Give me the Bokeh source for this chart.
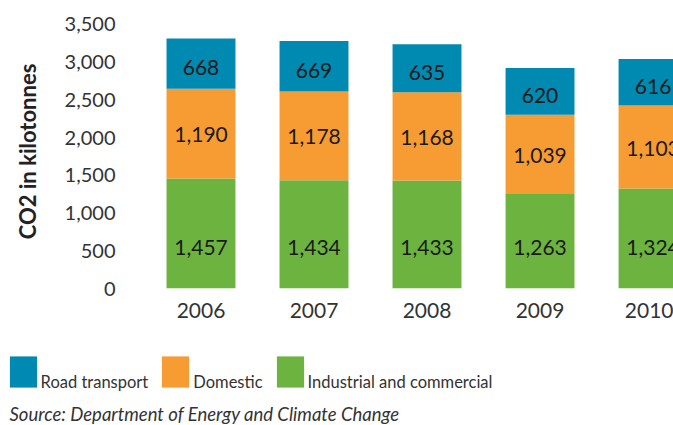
from bokeh.plotting import figure
from bokeh.models import (Range1d, FixedTicker, NumeralTickFormatter, Legend,
                          LegendItem, Label, ColumnDataSource)
from bokeh.core.properties import value
from bokeh.embed import file_html
from bokeh.resources import INLINE

years = [2006, 2007, 2008, 2009, 2010]
year_labels = ["2006", "2007", "2008", "2009", "2010"]
industrial = [1457, 1434, 1433, 1263, 1324]
domestic = [1190, 1178, 1168, 1039, 1103]
road = [668, 669, 635, 620, 616]
series_names = ["Road transport", "Domestic", "Industrial and commercial"]
y_ticks = [0, 500, 1000, 1500, 2000, 2500, 3000, 3500]
source_text = "Source: Department of Energy and Climate Change"

C_ROAD = "#0089B1"
C_DOM = "#F79C33"
C_IND = "#6DB33F"
FONT = "Lato"
W = 673
H_TOP = 335
H_BOT = 90

def fmt(v):
    return f"{v:,}"

src = ColumnDataSource(dict(
    x=years,
    industrial=industrial,
    domestic=domestic,
    road=road,
    zero=[0 for _ in years],
    ind_lab=[fmt(v) for v in industrial],
    dom_lab=[fmt(v) for v in domestic],
    road_lab=[fmt(v) for v in road],
    ind_y=[540 for _ in industrial],
    dom_y=[i + d / 2 for i, d in zip(industrial, domestic)],
    road_y=[i + d + r / 2 for i, d, r in zip(industrial, domestic, road)],
))

p = figure(width=W, height=H_TOP, output_backend="svg", toolbar_location=None,
           x_range=Range1d(2005.332, 2010.181), y_range=Range1d(0, 3632),
           min_border_left=125, min_border_right=0, min_border_top=14,
           min_border_bottom=47)
p.outline_line_color = None
p.grid.visible = False

p.vbar_stack(["industrial", "domestic", "road"], x="x", width=0.61,
             source=src, color=[C_IND, C_DOM, C_ROAD], line_color=None)

for col, ycol, off in [("ind_lab", "ind_y", 0), ("dom_lab", "dom_y", 1), ("road_lab", "road_y", 4)]:
    p.text(x="x", y=ycol, text=col, source=src, text_align="center",
           text_baseline="middle", text_font=value(FONT), text_font_size="21px",
           text_color="#1a1a1a", y_offset=off)

p.xaxis.ticker = FixedTicker(ticks=years)
p.xaxis.major_label_overrides = {y: s for y, s in zip(years, year_labels)}
p.xaxis.axis_line_color = None
p.xaxis.major_tick_line_color = None
p.xaxis.minor_tick_line_color = None
p.xaxis.major_tick_out = 0
p.xaxis.major_label_standoff = 14
p.xaxis.major_label_text_font = FONT
p.xaxis.major_label_text_font_size = "21px"
p.xaxis.major_label_text_color = "#333333"

p.yaxis.ticker = FixedTicker(ticks=y_ticks)
p.yaxis.formatter = NumeralTickFormatter(format="0,0")
p.yaxis.axis_line_color = None
p.yaxis.major_tick_line_color = None
p.yaxis.minor_tick_line_color = None
p.yaxis.major_tick_out = 0
p.yaxis.major_label_standoff = 10
p.yaxis.major_label_text_font = FONT
p.yaxis.major_label_text_font_size = "20px"
p.yaxis.major_label_text_color = "#333333"
p.yaxis.axis_label = "CO2 in kilotonnes"
p.yaxis.axis_label_text_font = FONT
p.yaxis.axis_label_text_font_style = "bold"
p.yaxis.axis_label_text_font_size = "22px"
p.yaxis.axis_label_text_color = "#222222"
p.yaxis.axis_label_standoff = 21

# legend and source strip (separate root so its frame starts at the left edge)
q = figure(width=W, height=H_BOT, output_backend="svg", toolbar_location=None,
           x_range=Range1d(2005.332, 2010.181), y_range=Range1d(0, 1),
           x_axis_location=None, y_axis_location=None, min_border=0)
q.grid.visible = False
q.outline_line_color = None
leg_r = [q.vbar(x="x", top="zero", bottom="zero", width=0.61, source=src,
                color=c, line_color=None) for c in (C_ROAD, C_DOM, C_IND)]
# leading empty line drops the label text to the bottom of the swatch
legend = Legend(items=[LegendItem(label="\n" + n, renderers=[r])
                       for n, r in zip(series_names, leg_r)],
                orientation="horizontal", location=(5.6, 33.4),
                glyph_width=34, glyph_height=39,
                label_standoff=1, spacing=10,
                padding=0, margin=0, border_line_color=None,
                background_fill_alpha=0, label_text_font=FONT,
                label_text_font_size="16.5px", label_text_color="#333333")
q.add_layout(legend, "center")
q.add_layout(Label(x=9, y=12, x_units="screen", y_units="screen", text=source_text,
                   text_font=FONT, text_font_style="italic", text_baseline="alphabetic",
                   text_font_size="18.5px", text_color="#333333"))

open("out.html", "w").write(file_html([p, q], INLINE))
